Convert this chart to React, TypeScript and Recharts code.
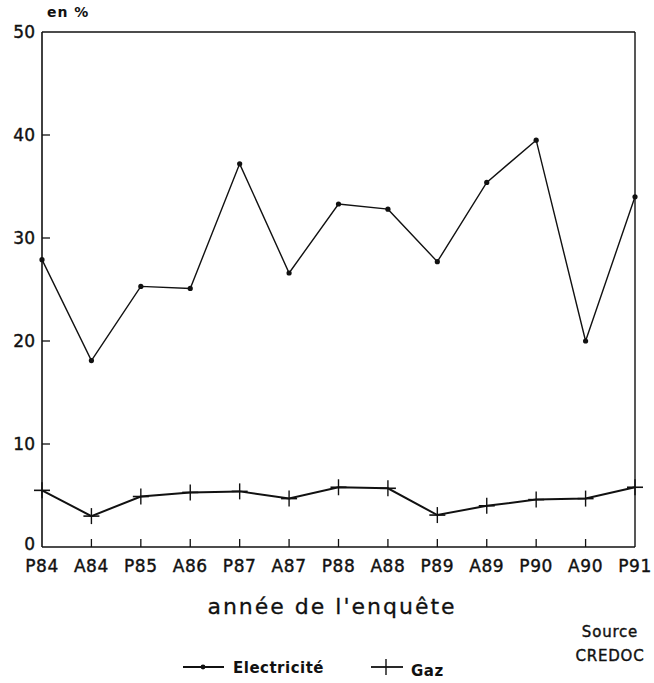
import React from 'react';
import { LineChart, Line, XAxis, YAxis, ReferenceLine, Legend } from 'recharts';

const categories = ['P84', 'A84', 'P85', 'A86', 'P87', 'A87', 'P88', 'A88', 'P89', 'A89', 'P90', 'A90', 'P91'];
const electricite = [27.9, 18.1, 25.3, 25.1, 37.2, 26.6, 33.3, 32.8, 27.7, 35.4, 39.5, 20.0, 34.0];
const gaz = [5.5, 3.0, 4.9, 5.3, 5.4, 4.7, 5.8, 5.7, 3.1, 4.0, 4.6, 4.7, 5.8];
const yTicks = [0, 10, 20, 30, 40, 50];

const data = categories.map((c, i) => ({ cat: c, elec: electricite[i], gaz: gaz[i] }));

const FONT = '"DejaVu Sans", sans-serif';
const INK = '#111';

const YTick = (props: any) => {
  const { x, y, payload } = props;
  const v = payload.value;
  return (
    <g>
      {v > 0 && v < 50 && <line x1={x} x2={x + 8} y1={y} y2={y} stroke={INK} strokeWidth={1.3} />}
      <text x={x - 7} y={y} dy={v === 0 ? 3 : 6} textAnchor="end" fontFamily={FONT} fontSize={17} fill={INK} stroke={INK} strokeWidth={0.4}>
        {v}
      </text>
    </g>
  );
};

const XTick = (props: any) => {
  const { x, y, payload, index } = props;
  return (
    <g>
      {index > 0 && index < categories.length - 1 && (
        <line x1={x} x2={x} y1={y} y2={y - 8} stroke={INK} strokeWidth={1.3} />
      )}
      <text x={x} y={y} dy={25} textAnchor="middle" fontFamily={FONT} fontSize={17} fill={INK} stroke={INK} strokeWidth={0.4} letterSpacing={0.6}>
        {payload.value}
      </text>
    </g>
  );
};

const ElecDot = (props: any) => {
  const { cx, cy } = props;
  return <circle cx={cx} cy={cy} r={2.6} fill={INK} />;
};

const GazDot = (props: any) => {
  const { cx, cy } = props;
  return (
    <g>
      <line x1={cx - 8} x2={cx + 8} y1={cy} y2={cy} stroke={INK} strokeWidth={1.6} />
      <line x1={cx} x2={cx} y1={cy - 8} y2={cy + 8} stroke={INK} strokeWidth={1.4} />
    </g>
  );
};

const LegendContent = () => (
  <svg width={654} height={30}>
    <line x1={183} x2={224} y1={12} y2={12} stroke={INK} strokeWidth={1.8} />
    <circle cx={203} cy={12} r={2.4} fill={INK} />
    <text x={233} y={18} fontFamily={FONT} fontSize={15} fontWeight="bold" fill={INK} letterSpacing={0.5}>
      Electricité
    </text>
    <line x1={371} x2={403} y1={12} y2={12} stroke={INK} strokeWidth={1.8} />
    <line x1={386} x2={386} y1={4} y2={20} stroke={INK} strokeWidth={1.4} />
    <text x={411} y={21} fontFamily={FONT} fontSize={15} fontWeight="bold" fill={INK} letterSpacing={0.5}>
      Gaz
    </text>
  </svg>
);

export default function App() {
  return (
    <div style={{ position: 'absolute', left: 0, top: 0, width: 654, height: 683, background: '#fff' }}>
      <LineChart
        width={654}
        height={683}
        data={data}
        margin={{ top: 32, right: 19, bottom: 0, left: 0 }}
      >
        <XAxis
          dataKey="cat"
          height={106}
          tickSize={0}
          tickMargin={0}
          interval={0}
          tick={<XTick />}
          axisLine={{ stroke: INK, strokeWidth: 1.6 }}
          padding={{ left: 0, right: 0 }}
        />
        <YAxis
          width={42}
          domain={[0, 50]}
          ticks={yTicks}
          tickSize={0}
          tickMargin={0}
          interval={0}
          tick={<YTick />}
          axisLine={{ stroke: INK, strokeWidth: 1.6 }}
        />
        <ReferenceLine y={50} stroke={INK} strokeWidth={1.4} />
        <ReferenceLine x="P91" stroke={INK} strokeWidth={1.4} />
        <Line
          dataKey="elec"
          name="Electricité"
          stroke={INK}
          strokeWidth={1.4}
          dot={<ElecDot />}
          isAnimationActive={false}
        />
        <Line
          dataKey="gaz"
          name="Gaz"
          stroke={INK}
          strokeWidth={2}
          dot={<GazDot />}
          isAnimationActive={false}
        />
        <Legend
          content={<LegendContent />}
          wrapperStyle={{ position: 'absolute', left: 0, top: 655, width: 654, height: 30 }}
        />
      </LineChart>
      <div style={{ position: 'absolute', left: 47, top: 4, fontFamily: FONT, fontSize: 14, fontWeight: 'bold', color: INK, letterSpacing: 1 }}>
        en %
      </div>
      <div style={{ position: 'absolute', left: 0, width: 654, top: 594, textAlign: 'center', fontFamily: FONT, fontSize: 22, color: INK, letterSpacing: 2, paddingLeft: 10, boxSizing: 'border-box', WebkitTextStroke: '0.3px #111' }}>
        année de l'enquête
      </div>
      <div style={{ position: 'absolute', left: 570, width: 80, top: 620, textAlign: 'center', fontFamily: FONT, fontSize: 15, color: INK, letterSpacing: 0.8, lineHeight: '24px', WebkitTextStroke: '0.4px #111' }}>
        Source<br />CREDOC
      </div>
    </div>
  );
}
